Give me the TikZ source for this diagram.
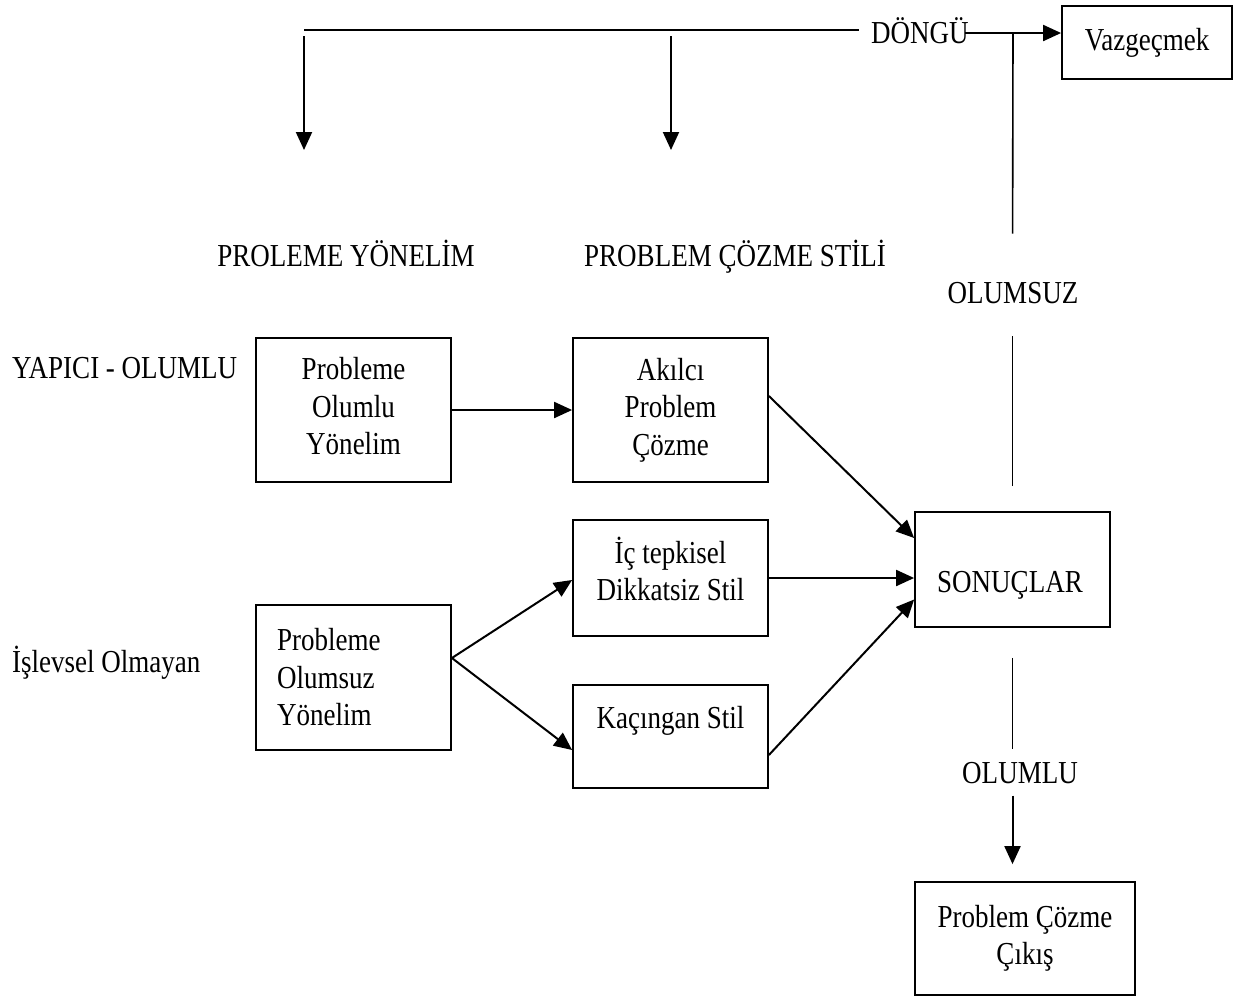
\documentclass[tikz,border=0pt]{standalone}
\usepackage{fontspec}
\setmainfont[FakeStretch=0.844]{Liberation Serif}
\usetikzlibrary{arrows.meta}
\begin{document}
\begin{tikzpicture}[x=1pt,y=-1pt,
  every node/.style={font=\fontsize{32}{37.5}\selectfont, inner sep=0pt},
  box/.style={draw, line width=1.8pt, minimum width=195pt},
  conn/.style={line width=2pt, -{Triangle[length=18pt,width=16pt]}},
  plain/.style={line width=1.6pt}]
\useasboundingbox (0,0) rectangle (1245,997);

% nodes
\node[box, minimum width=170pt, minimum height=73pt] (vaz) at (1147,42.5) {Vazgeçmek};
\node[anchor=base] (dongu) at (920,43) {DÖNGÜ};
\node[anchor=base] (h1) at (346,266) {PROLEME YÖNELİM};
\node[anchor=base] (h2) at (735,266) {PROBLEM ÇÖZME STİLİ};
\node[anchor=base] (olumsuz) at (1013,303) {OLUMSUZ};
\node[anchor=base west] (yap) at (12,378) {YAPICI - OLUMLU};
\node[anchor=base west] (isl) at (12,672) {İşlevsel Olmayan};

\node[box, minimum height=144pt, align=center, text depth=8pt] (A) at (353.5,410) {Probleme\\Olumlu\\Yönelim};
\node[box, minimum height=144pt, align=center] (B) at (670.5,410) {Akılcı\\Problem\\Çözme};
\node[box, minimum height=116pt, align=center, text depth=18pt] (C) at (670.5,578) {İç tepkisel\\Dikkatsiz Stil};
\node[box, minimum height=145pt, text width=153pt, inner xsep=21pt, align=left] (D) at (353.5,677.5) {Probleme\\Olumsuz\\Yönelim};
\node[box, minimum height=103pt] (E) at (670.5,736.5) {};
\node[anchor=base] (Et) at (670.5,728) {Kaçıngan Stil};
\node[box, minimum height=115pt] (S) at (1012.5,569.5) {};
\node[anchor=base] (St) at (1010,592) {SONUÇLAR};
\node[anchor=base] (olumlu) at (1020,783) {OLUMLU};
\node[box, minimum width=220pt, minimum height=113pt, align=center] (X) at (1025,938.5) {Problem Çözme\\Çıkış};

% coordinates
\coordinate (tl) at (304,30);
\coordinate (dr) at (965,33);
\coordinate (vj) at (1013,33);
\coordinate (d1s) at (304,36);
\coordinate (d1e) at (304,150);
\coordinate (d2s) at (671,36);
\coordinate (d2e) at (671,150);

% top loop
\draw[plain, shorten >=12pt] (tl) -- (tl -| dongu.west);
\draw[conn] (dr) -- (dr -| vaz.west);
\draw[conn] (d1s) -- (d1e);
\draw[conn] (d2s) -- (d2e);
\draw[plain, shorten <=25pt, shorten >=32pt] (S.north) -- (S.north |- olumsuz.south);
\draw[plain, shorten <=48pt] (S.north |- olumsuz.north) -- (vj);

% main flow
\draw[conn] (A.east) -- (B.west);
\draw[conn] ([yshift=14pt]B.east) -- ([yshift=31.5pt]S.west);
\draw[conn] (C.east) -- (C.east -| S.west);
\draw[conn] ([yshift=-18.5pt]E.east) -- ([yshift=-30pt]S.west);
\draw[conn] ([yshift=19.5pt]D.east) -- ([yshift=-2pt]C.west);
\draw[conn] ([yshift=19.5pt]D.east) -- ([yshift=-13.5pt]E.west);

% bottom
\draw[plain, shorten <=30pt, shorten >=13pt] (S.south) -- (S.south |- olumlu.north);
\draw[conn, shorten <=12pt, shorten >=17pt] (S.south |- olumlu.south) -- (S.south |- X.north);
\end{tikzpicture}
\end{document}
